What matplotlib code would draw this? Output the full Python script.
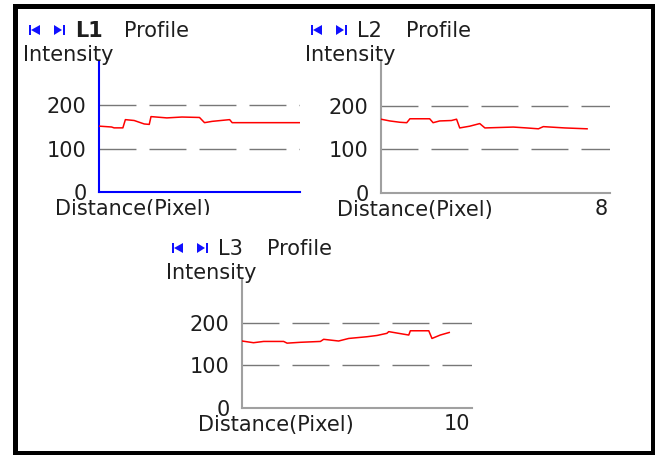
import matplotlib
matplotlib.use("Agg")
import matplotlib.pyplot as plt
from matplotlib.patches import Rectangle, Polygon

plt.rcParams['font.family'] = ['DejaVu Sans']
plt.rcParams['lines.scale_dashes'] = False

W, H = 655, 455

# ---- profile data ----
l1_dist = [0, 0.5, 0.6, 0.95, 1.05, 1.4, 1.8, 2.0, 2.07, 2.7, 3.3, 4.0, 4.2, 4.5, 5.2, 5.3, 8.0]
l1_int = [152, 150, 148, 148, 167, 165, 157, 156, 174, 171, 173, 172, 160, 163, 167, 160, 160]

l2_dist = [0, 0.31, 0.66, 0.9, 1.01, 1.7, 1.82, 2.05, 2.46, 2.64, 2.75, 3.1, 3.45, 3.63,
           4.62, 5.09, 5.5, 5.67, 6.42, 7.2]
l2_int = [169, 165, 162, 161, 170, 170, 161, 165, 166, 169, 149, 153, 159, 149,
          151, 149, 147, 152, 149, 147]

l3_dist = [0, 0.5, 0.94, 1.81, 1.96, 2.54, 3.41, 3.55, 4.2, 4.64, 5.43, 5.87, 6.3, 6.38,
           6.81, 7.25, 7.32, 8.12, 8.26, 8.62, 9.01]
l3_int = [157, 153, 156, 156, 152, 154, 156, 161, 157, 163, 167, 170, 175, 179,
          175, 171, 181, 181, 163, 171, 177]

names = ["L1", "L2", "L3"]
dists = [l1_dist, l2_dist, l3_dist]
ints = [l1_int, l2_int, l3_int]
x_max = [8, 8, 10]
x_max_labels = ["", "8", "10"]
y_ticks = [0, 100, 200]
grid_vals = [100, 200]

# panel boxes in pixels: left, top, right, bottom
boxes = [(99, 62, 300, 192), (381, 62, 610, 193), (242, 280, 472, 408)]
axis_colors = ['#0000ff', '#a0a0a0', '#a0a0a0']

txt = '#1e1e1e'
fs = 15


def fx(x):
    return x / W


def fy(y):
    return 1 - y / H


fig = plt.figure(figsize=(W / 100, H / 100), dpi=100)

# outer frame
fig.add_artist(Rectangle((fx(14.5), fy(452.5)), fx(652.5) - fx(14.5), fy(6.5) - fy(452.5),
                         transform=fig.transFigure, fill=False, edgecolor='black', lw=3.6))

for i in range(3):
    l, t, r, b = boxes[i]
    ax = fig.add_axes([fx(l), fy(b), fx(r) - fx(l), fy(t) - fy(b)])
    ax.set_xlim(0, x_max[i])
    ax.set_ylim(0, 300)
    ax.patch.set_alpha(0)
    for s in ['top', 'right']:
        ax.spines[s].set_visible(False)
    for s in ['left', 'bottom']:
        ax.spines[s].set_color(axis_colors[i])
        ax.spines[s].set_linewidth(1.5)
    for g in grid_vals:
        ax.axhline(g, color='#777777', lw=1.0, dashes=(26.6, 9.4), zorder=1)
    ax.plot(dists[i], ints[i], color='#ff0000', lw=1.1, zorder=3)
    ax.set_xticks([])
    ax.set_yticks(y_ticks)
    ax.tick_params(axis='y', length=0, pad=9, labelsize=fs, labelcolor=txt)

    # title with the two navigation icons
    blue = '#1010ff'
    ic_top, ic_bot = t - 37, t - 27
    fig.add_artist(Rectangle((fx(l - 70), fy(ic_bot)), fx(2), fy(0) - fy(10),
                             transform=fig.transFigure, color=blue, lw=0))
    fig.add_artist(Polygon([(fx(l - 68), fy(t - 32)), (fx(l - 59), fy(ic_top)), (fx(l - 59), fy(ic_bot))],
                           closed=True, transform=fig.transFigure, color=blue, lw=0))
    fig.add_artist(Polygon([(fx(l - 45), fy(ic_top)), (fx(l - 45), fy(ic_bot)), (fx(l - 37), fy(t - 32))],
                           closed=True, transform=fig.transFigure, color=blue, lw=0))
    fig.add_artist(Rectangle((fx(l - 36), fy(ic_bot)), fx(2), fy(0) - fy(10),
                             transform=fig.transFigure, color=blue, lw=0))
    fig.text(fx(l - 24), fy(t - 25), names[i], fontsize=fs, color=txt, va='baseline',
             weight='bold' if i == 0 else 'normal')
    fig.text(fx(l + 25), fy(t - 25), "Profile", fontsize=fs, color=txt, va='baseline')

    fig.text(fx(l - 76), fy(t - 1), "Intensity", fontsize=fs, color=txt, va='baseline')
    fig.text(fx(l - 44), fy(b + 23), "Distance(Pixel)", fontsize=fs, color=txt, va='baseline')
    if x_max_labels[i]:
        fig.text(fx(r - 2), fy(b + 22), x_max_labels[i], fontsize=fs, color=txt,
                 va='baseline', ha='right')

# the first panel's bottom label is cut off in the original
fig.add_artist(Rectangle((fx(45), fy(226)), fx(200), fy(0) - fy(11),
                         transform=fig.transFigure, color='white', lw=0, zorder=10))

fig.savefig("out.png", dpi=100)
